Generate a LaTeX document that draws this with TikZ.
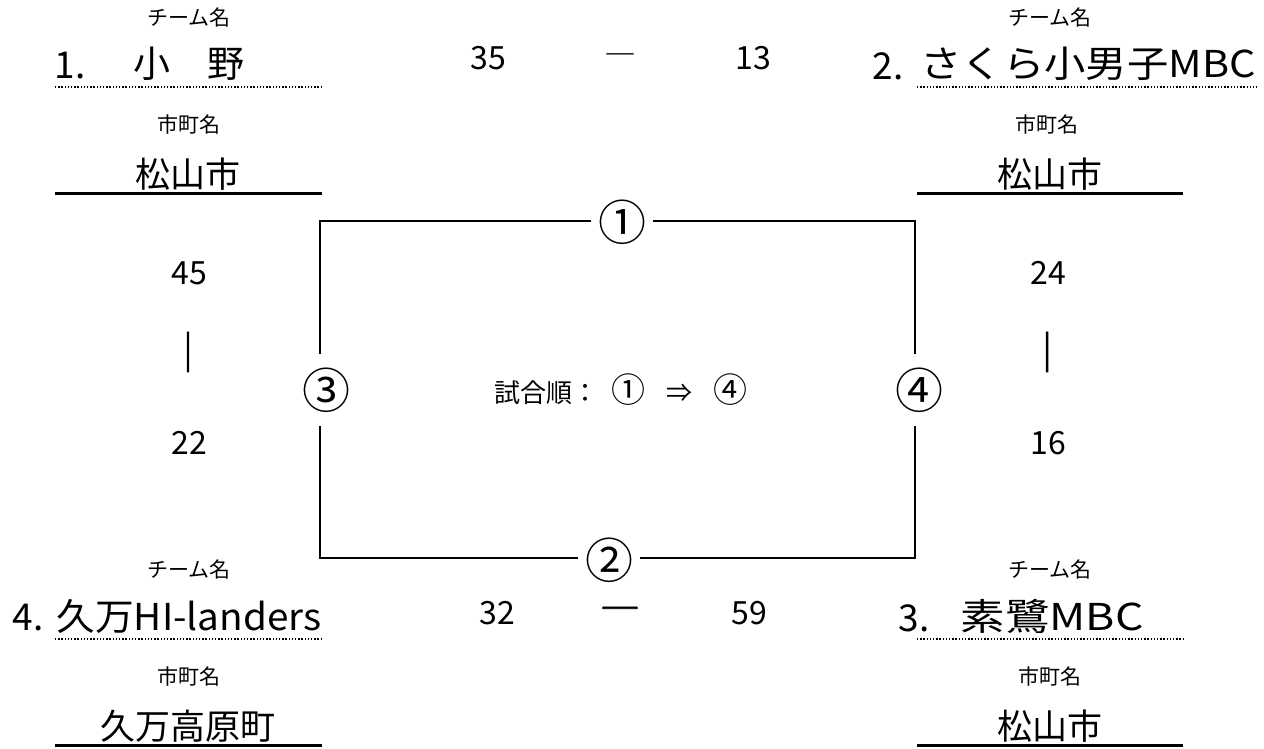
\documentclass[tikz,border=0pt]{standalone}
\usepackage{fontspec}
\usepackage{graphicx}
\setmainfont{Noto Sans CJK JP}
\newfontfamily\boldcjk[FakeBold=2]{Noto Sans CJK JP}
\newcommand{\fitw}[2]{\resizebox{#1}{\height}{#2}}
\newcommand{\bigc}[1]{{\fontsize{34}{36}\selectfont #1}}
\begin{document}
\begin{tikzpicture}[x=1pt,y=-1pt,
  every node/.style={inner sep=0pt},
  lab/.style={font=\fontsize{21}{24}\selectfont},
  team/.style={font=\fontsize{37}{40}\selectfont},
  city/.style={font=\fontsize{35}{38}\selectfont},
  score/.style={font=\fontsize{32}{34}\selectfont},
  bar/.style={font=\fontsize{40}{44}\selectfont\boldcjk},
  circ/.style={font=\fontsize{48}{50}\selectfont},
  order/.style={font=\fontsize{26}{30}\selectfont},
  dotline/.style={line width=2.4pt, dash pattern=on 1.4pt off 1.8pt},
  uline/.style={line width=3pt},
  boxline/.style={line width=2pt}
]
\useasboundingbox (0,0) rectangle (1264,749);

% ---------- top-left team ----------
\node[lab] (tl-lab) at (189,18) {チーム名};
\node[team] (tl-no) at (70,66) {1.};
\node[team] (tl-name) at (189,64) {小　野};
\coordinate (tl-d1) at (55,87); \coordinate (tl-d2) at (322,87);
\draw[dotline] (tl-d1) -- (tl-d2);
\node[lab] (tl-clab) at (189,124) {市町名};
\node[city] (tl-city) at (188,174) {松山市};
\coordinate (tl-u1) at (55,193); \coordinate (tl-u2) at (322,193);
\draw[uline] (tl-u1) -- (tl-u2);

% ---------- top-right team ----------
\node[lab] (tr-lab) at (1050,18) {チーム名};
\node[team] (tr-no) at (888,66) {2.};
\node[team] (tr-name) at (1088,64) {\fitw{335pt}{さくら小男子MBC}};
\coordinate (tr-d1) at (917,87); \coordinate (tr-d2) at (1257,87);
\draw[dotline] (tr-d1) -- (tr-d2);
\node[lab] (tr-clab) at (1047,124) {市町名};
\node[city] (tr-city) at (1050,174) {松山市};
\coordinate (tr-u1) at (917,193); \coordinate (tr-u2) at (1183,193);
\draw[uline] (tr-u1) -- (tr-u2);

% ---------- bottom-left team ----------
\node[lab] (bl-lab) at (189,570) {チーム名};
\node[team] (bl-no) at (28,618) {4.};
\node[team] (bl-name) at (189,616) {\fitw{265pt}{久万HI-landers}};
\coordinate (bl-d1) at (55,639); \coordinate (bl-d2) at (322,639);
\draw[dotline] (bl-d1) -- (bl-d2);
\node[lab] (bl-clab) at (189,676) {市町名};
\node[city] (bl-city) at (188,726) {久万高原町};
\coordinate (bl-u1) at (55,745); \coordinate (bl-u2) at (322,745);
\draw[uline] (bl-u1) -- (bl-u2);

% ---------- bottom-right team ----------
\node[lab] (br-lab) at (1050,570) {チーム名};
\node[team] (br-no) at (914,618) {3.};
\node[team] (br-name) at (1052,616) {\fitw{183pt}{素鷺MBC}};
\coordinate (br-d1) at (917,639); \coordinate (br-d2) at (1183,639);
\draw[dotline] (br-d1) -- (br-d2);
\node[lab] (br-clab) at (1050,676) {市町名};
\node[city] (br-city) at (1050,726) {松山市};
\coordinate (br-u1) at (917,745); \coordinate (br-u2) at (1183,745);
\draw[uline] (br-u1) -- (br-u2);

% ---------- scores ----------
\node[score] (s1a) at (488,58) {35};
\node[score] (s1d) at (620,60) {―};
\node[score] (s1b) at (753,58) {13};
\node[score] (s2a) at (497,613) {32};
\node[font=\fontsize{40}{44}\selectfont\boldcjk] (s2d) at (620,615) {―};
\node[score] (s2b) at (749,613) {59};
\node[score] (s3a) at (189,273) {45};
\node[bar] (s3d) at (188,352) {｜};
\node[score] (s3b) at (189,443) {22};
\node[score] (s4a) at (1048,273) {24};
\node[bar] (s4d) at (1047,352) {｜};
\node[score] (s4b) at (1048,443) {16};

% ---------- bracket ----------
\node[circ, minimum width=61pt] (c1) at (622,222) {①};
\node[circ, minimum width=61pt] (c2) at (609,560) {②};
\node[circ, minimum height=72pt] (c3) at (326,390) {③};
\node[circ, minimum height=72pt] (c4) at (919,390) {④};
\coordinate (ctl) at (320,221);
\coordinate (ctr) at (915,221);
\coordinate (cbl) at (320,558);
\coordinate (cbr) at (915,558);
\draw[boxline] (c1.west |- ctl) -- (ctl) -- (ctl |- c3.north);
\draw[boxline] (c1.east |- ctr) -- (ctr) -- (ctr |- c4.north);
\draw[boxline] (ctl |- c3.south) -- (cbl) -- (c2.west |- cbl);
\draw[boxline] (ctr |- c4.south) -- (cbr) -- (c2.east |- cbr);

\node[order] (ord) at (621,390) {試合順：\kern.5em\bigc{①}\kern.8em⇒\kern.8em\bigc{④}};
\end{tikzpicture}
\end{document}
